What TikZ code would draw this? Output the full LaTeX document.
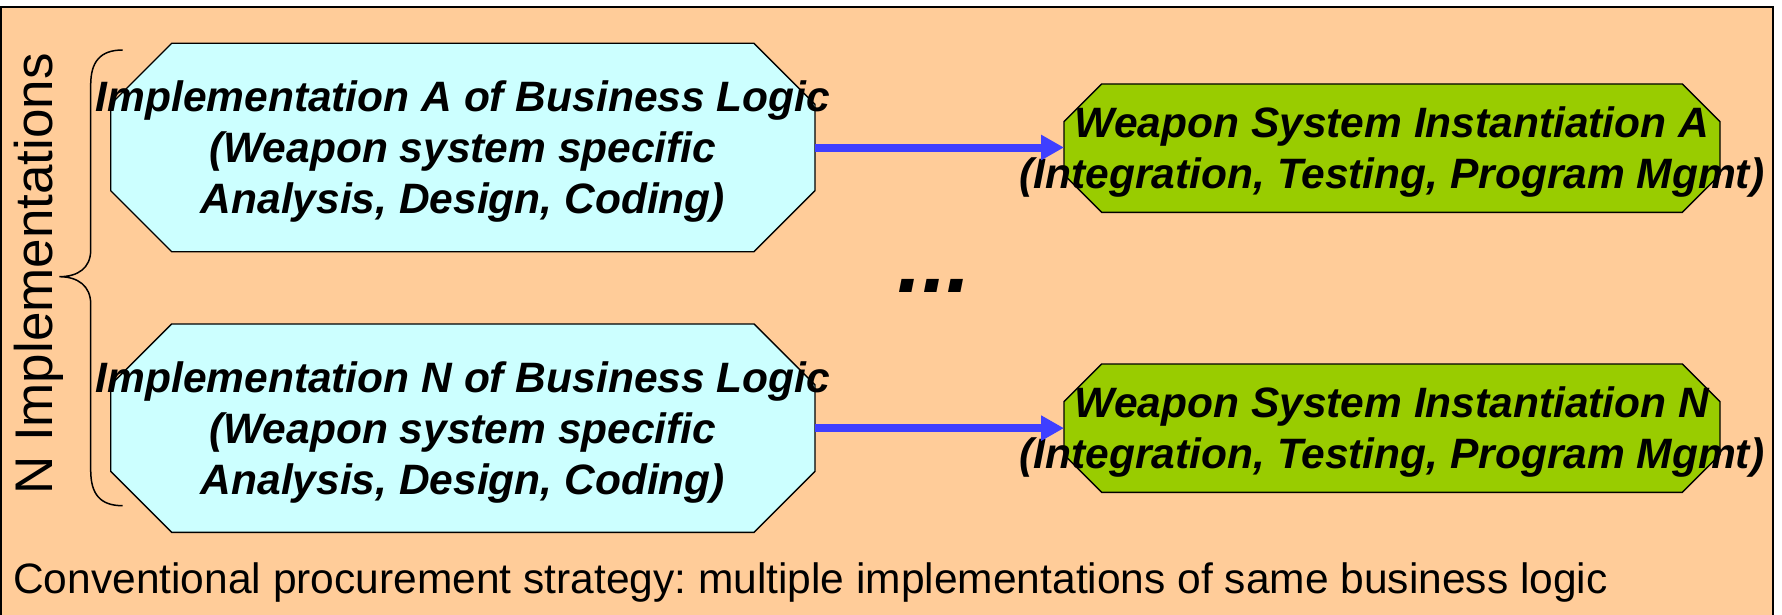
\documentclass[tikz,border=0pt]{standalone}
\usepackage{fontspec}
\setmainfont{Liberation Sans}
\usetikzlibrary{arrows.meta}
\frenchspacing

\definecolor{peach}{HTML}{FFCC99}
\definecolor{palecyan}{HTML}{CCFFFF}
\definecolor{leafgreen}{HTML}{99CC00}
\definecolor{flowblue}{HTML}{3F3FFF}

% octagon outline filling the rectangle of a named node
\newcommand\octagonfor[3]{% node, chamfer, fill colour
  \draw[boxline, fill=#3]
    ([xshift=#2]#1.north west) -- ([xshift=-#2]#1.north east)
    -- ([yshift=-#2]#1.north east) -- ([yshift=#2]#1.south east)
    -- ([xshift=-#2]#1.south east) -- ([xshift=#2]#1.south west)
    -- ([yshift=#2]#1.south west) -- ([yshift=-#2]#1.north west) -- cycle;}

% struts that centre a text block on its cap height
\newcommand\capstrut{\rule{0pt}{40pt}}
\newcommand\footstrut{\rule[-9.6pt]{0pt}{9.6pt}}

\begin{document}
\begin{tikzpicture}[x=1pt, y=-1pt,
  boxline/.style={draw=black, line width=1.4pt, line join=miter},
  cyanslot/.style={rectangle, inner sep=0pt, outer sep=0pt,
    minimum width=704.3pt, minimum height=208.4pt},
  greenslot/.style={rectangle, inner sep=0pt, outer sep=0pt,
    minimum width=656pt, minimum height=128.3pt},
  boxtext/.style={inner sep=0pt, align=center,
    font=\fontsize{42.5pt}{51pt}\selectfont\bfseries\itshape},
  flow/.style={draw=flowblue, line width=8pt,
    -{Triangle[length=23pt,width=24pt]}}
]
\useasboundingbox (0,0) rectangle (1782,615);
\fill[white] (0,0) rectangle (1782,615);

% panel
\fill[peach] (1,7) rectangle (1773,625);
\draw[line width=2.5pt] (1,625) -- (1,7) -- (1773,7) -- (1773,625);

% business logic implementations
\node[cyanslot] (implA) at (462.85,147.5) {};
\octagonfor{implA}{61pt}{palecyan}
\node[boxtext] (implA-text) at (implA.center)
  {\capstrut Implementation A of Business Logic\\(Weapon system specific\\Analysis, Design, Coding)\footstrut};

\node[cyanslot] (implN) at (462.85,428.15) {};
\octagonfor{implN}{61pt}{palecyan}
\node[boxtext] (implN-text) at (implN.center)
  {\capstrut Implementation N of Business Logic\\(Weapon system specific\\Analysis, Design, Coding)\footstrut};

% weapon system instantiations
\node[greenslot] (instA) at (1392,148.15) {};
\octagonfor{instA}{37.6pt}{leafgreen}
\node[boxtext] (instA-text) at (instA.center)
  {\capstrut Weapon System Instantiation A\\(Integration, Testing, Program Mgmt)\footstrut};

\node[greenslot] (instN) at (1392,428.15) {};
\octagonfor{instN}{37.6pt}{leafgreen}
\node[boxtext] (instN-text) at (instN.center)
  {\capstrut Weapon System Instantiation N\\(Integration, Testing, Program Mgmt)\footstrut};

% flows
\draw[flow] (implA.east) -- (implA.east -| instA.west);
\draw[flow] (implN.east) -- (implN.east -| instN.west);

% ellipsis between the rows
\node[inner sep=0pt, anchor=base,
  font=\fontsize{88pt}{88pt}\selectfont\bfseries\itshape] (gap) at (934.5,292.7) {...};

% brace grouping the implementations
\draw[line width=1.5pt]
  (122.7,50) .. controls (100,50) and (90.7,62) .. (90.7,85)
  -- (90.7,250) .. controls (90.7,268) and (78,276.7) .. (59.3,276.7)
  .. controls (78,276.7) and (90.7,286) .. (90.7,304)
  -- (90.7,470) .. controls (90.7,494) and (100,505.7) .. (122.7,505.7);

\node[rotate=90, anchor=base, inner sep=0pt,
  font=\fontsize{53pt}{60pt}\selectfont] (count) at (52.7,274) {N Implementations};

% caption
\node[anchor=base west, inner sep=0pt,
  font=\fontsize{42.5pt}{51pt}\selectfont] (caption) at (13,593.3)
  {Conventional procurement strategy: multiple implementations of same business logic};
\end{tikzpicture}
\end{document}
